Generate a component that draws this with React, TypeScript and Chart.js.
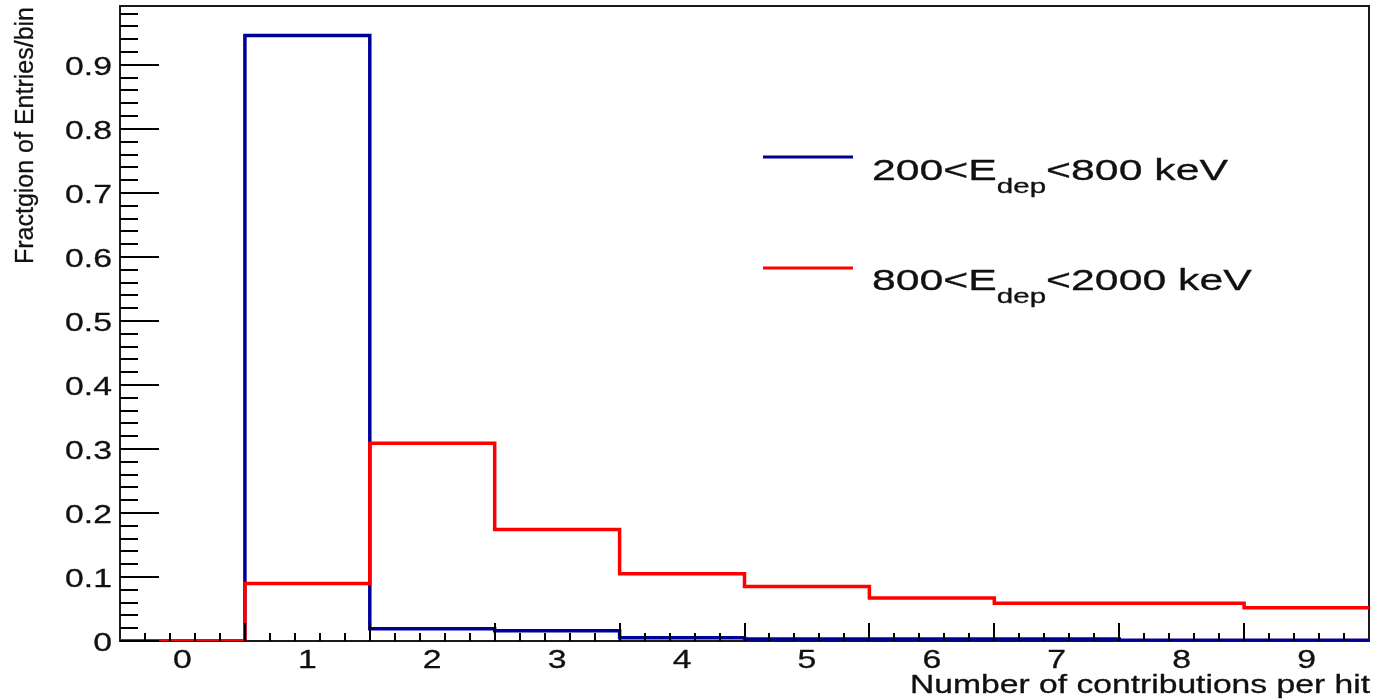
import React, { useEffect, useRef } from 'react';
import { Chart, registerables } from 'chart.js';

Chart.register(...registerables);

// ---- data ----
const categories = [0, 1, 2, 3, 4, 5, 6, 7, 8, 9];
const blueValues = [0, 0.946, 0.019, 0.016, 0.005, 0.003, 0.003, 0.003, 0.001, 0.001];
const redValues = [0, 0.09, 0.309, 0.174, 0.105, 0.085, 0.067, 0.059, 0.059, 0.052];
const xTickLabels = ['0', '1', '2', '3', '4', '5', '6', '7', '8', '9'];
const yTickValues = [0, 0.1, 0.2, 0.3, 0.4, 0.5, 0.6, 0.7, 0.8, 0.9];
const yTickLabels = ['0', '0.1', '0.2', '0.3', '0.4', '0.5', '0.6', '0.7', '0.8', '0.9'];
const blueLegend = ['200<E', 'dep', '<800 keV'];
const redLegend = ['800<E', 'dep', '<2000 keV'];
const xTitle = 'Number of contributions per hit';
const yTitle = 'Fractgion of Entries/bin';

const BLUE = '#000099';
const RED = '#ff0000';
const FONT = "'Liberation Sans', Arial, Helvetica, sans-serif";
const INK = '#111111';

function histPoints(values: number[]) {
  const pts = categories.map((c, i) => ({ x: c - 0.5, y: values[i] }));
  const last = categories.length - 1;
  pts.push({ x: categories[last] + 0.5, y: values[last] });
  return pts;
}

function paintText(ctx: CanvasRenderingContext2D, text: string, x: number, y: number) {
  ctx.fillStyle = INK;
  ctx.strokeStyle = INK;
  ctx.lineWidth = 0.3;
  ctx.lineJoin = 'round';
  ctx.fillText(text, x, y);
  ctx.strokeText(text, x, y);
}

function drawText(ctx: CanvasRenderingContext2D, text: string, x: number, y: number, size: number, align: CanvasTextAlign, sx: number) {
  ctx.save();
  ctx.translate(x, y);
  ctx.scale(sx, 1);
  ctx.font = `${size}px ${FONT}`;
  ctx.textAlign = align;
  ctx.textBaseline = 'alphabetic';
  paintText(ctx, text, 0, 0);
  ctx.restore();
}

function subTextWidth(ctx: CanvasRenderingContext2D, parts: string[], main: number, sub: number) {
  let w = 0;
  parts.forEach((t, i) => {
    ctx.font = `${i === 1 ? sub : main}px ${FONT}`;
    w += ctx.measureText(t).width;
  });
  return w;
}

function drawSubText(ctx: CanvasRenderingContext2D, parts: string[], x: number, baseline: number, drop: number, main: number, sub: number, sx: number) {
  ctx.save();
  ctx.translate(x, baseline);
  ctx.scale(sx, 1);
  ctx.textAlign = 'left';
  ctx.textBaseline = 'alphabetic';
  let cx = 0;
  parts.forEach((t, i) => {
    ctx.font = `${i === 1 ? sub : main}px ${FONT}`;
    paintText(ctx, t, cx, i === 1 ? drop : 0);
    cx += ctx.measureText(t).width;
  });
  ctx.restore();
}

const rootPlugin = {
  id: 'rootStyle',
  beforeDraw(chart: any) {
    const { ctx, width, height } = chart;
    ctx.save();
    ctx.fillStyle = '#ffffff';
    ctx.fillRect(0, 0, width, height);
    ctx.restore();
  },
  beforeDatasetsDraw(chart: any) {
    const { ctx, chartArea: a } = chart;
    ctx.save();
    ctx.strokeStyle = '#1a1a1a';
    ctx.lineWidth = 2;
    ctx.strokeRect(a.left, a.top, a.right - a.left, a.bottom - a.top);
    ctx.restore();
  },
  afterDatasetsDraw(chart: any) {
    const { ctx, chartArea: a, scales } = chart;
    const x = scales.x;
    const y = scales.y;
    ctx.save();
    ctx.strokeStyle = '#000000';
    ctx.lineWidth = 2;
    ctx.beginPath();
    // y ticks: minor every 0.02, major every 0.1
    for (let k = 0; k <= 60; k++) {
      const v = k * 0.02;
      if (v > y.max) break;
      const py = Math.round(y.getPixelForValue(v));
      const len = k % 5 === 0 ? 39 : 18;
      ctx.moveTo(a.left, py);
      ctx.lineTo(a.left + len, py);
    }
    // x ticks: minor every 0.2 from -0.5, major at half-integers
    for (let k = 1; k < 50; k++) {
      const v = x.min + k * 0.2;
      const px = Math.round(x.getPixelForValue(v));
      const len = k % 5 === 0 ? 18 : 8;
      ctx.moveTo(px, a.bottom);
      ctx.lineTo(px, a.bottom - len);
    }
    ctx.stroke();

    // tick labels
    yTickValues.forEach((v, i) => {
      const py = y.getPixelForValue(v);
      drawText(ctx, yTickLabels[i], 112, py + 10, 25, 'right', 1.35);
    });
    categories.forEach((c, i) => {
      const px = x.getPixelForValue(c);
      drawText(ctx, xTickLabels[i], px, 668, 25, 'center', 1.35);
    });

    // axis titles
    ctx.font = `25px ${FONT}`;
    const xtw = ctx.measureText(xTitle).width;
    drawText(ctx, xTitle, 1370, 693, 25, 'right', 460 / xtw);

    ctx.save();
    ctx.translate(33, 7);
    ctx.rotate(-Math.PI / 2);
    ctx.font = `25px ${FONT}`;
    ctx.textAlign = 'right';
    ctx.textBaseline = 'alphabetic';
    paintText(ctx, yTitle, 0, 0);
    ctx.restore();

    // legend
    const mainSize = 29;
    const subSize = 20;
    const w1 = subTextWidth(ctx, blueLegend, mainSize, subSize);
    const sx = 356 / w1;
    ctx.lineWidth = 3;
    ctx.lineCap = 'butt';
    ctx.strokeStyle = BLUE;
    ctx.beginPath();
    ctx.moveTo(763, 157);
    ctx.lineTo(853, 157);
    ctx.stroke();
    ctx.strokeStyle = RED;
    ctx.beginPath();
    ctx.moveTo(763, 268);
    ctx.lineTo(853, 268);
    ctx.stroke();
    drawSubText(ctx, blueLegend, 872, 180, 13, mainSize, subSize, sx);
    drawSubText(ctx, redLegend, 872, 290, 13, mainSize, subSize, sx);
    ctx.restore();
  },
};

export default function App() {
  const ref = useRef<HTMLCanvasElement | null>(null);
  useEffect(() => {
    document.body.style.margin = '0';
    const canvas = ref.current;
    if (!canvas) return;
    const chart = new Chart(canvas, {
      type: 'line',
      data: {
        datasets: [
          {
            label: '800<Edep<2000 keV',
            data: histPoints(redValues),
            borderColor: RED,
            borderWidth: 3.5,
            stepped: true,
            pointRadius: 0,
            fill: false,
            borderJoinStyle: 'miter',
            borderCapStyle: 'butt',
            order: 0,
          },
          {
            label: '200<Edep<800 keV',
            data: histPoints(blueValues),
            borderColor: BLUE,
            borderWidth: 3.5,
            stepped: true,
            pointRadius: 0,
            fill: false,
            borderJoinStyle: 'miter',
            borderCapStyle: 'butt',
            order: 1,
          },
        ],
      },
      options: {
        animation: false,
        responsive: false,
        events: [],
        layout: { padding: { left: 120, right: 5, top: 6, bottom: 58 } },
        plugins: { legend: { display: false }, tooltip: { enabled: false } },
        scales: {
          x: { type: 'linear', min: -0.5, max: 9.5, display: false },
          y: { type: 'linear', min: 0, max: 0.992, display: false },
        },
      },
      plugins: [rootPlugin],
    } as any);
    return () => chart.destroy();
  }, []);
  return (
    <div style={{ width: 1374, height: 699 }}>
      <canvas ref={ref} width={1374} height={699} />
    </div>
  );
}
